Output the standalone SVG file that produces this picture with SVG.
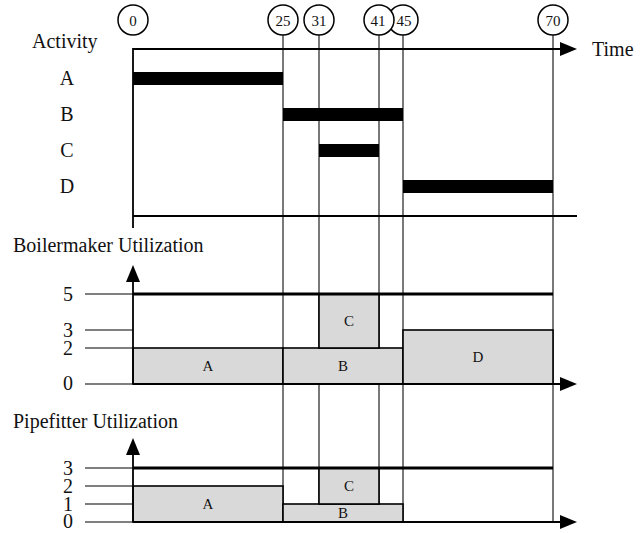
<svg xmlns="http://www.w3.org/2000/svg" width="642" height="533" viewBox="0 0 642 533">
  <style>
    text { font-family: "Liberation Serif", "Times New Roman", serif; fill: #111; }
    .lbl { font-size: 20px; }
    .tick { font-size: 20px; text-anchor: middle; }
    .ms { font-size: 15px; text-anchor: middle; }
    .bl { font-size: 15px; text-anchor: middle; }
    .axis { stroke: #000; stroke-width: 1.8; fill: none; }
    .tk { stroke: #000; stroke-width: 1.2; fill: none; }
    .guide { stroke: #4d4d4d; stroke-width: 1.5; fill: none; }
    .cap { stroke: #000; stroke-width: 3; fill: none; }
    .bar { fill: #000; }
    .use { fill: #d9d9d9; stroke: #000; stroke-width: 1.6; }
    .mile { fill: #fff; stroke: #000; stroke-width: 1.5; }
  </style>

  <!-- milestone guide lines (time scale: x = 133 + 6*t) -->
  <g id="connectors">
    <line class="guide" x1="283" y1="35" x2="283" y2="522"/>
    <line class="guide" x1="319" y1="35" x2="319" y2="522"/>
    <line class="guide" x1="379" y1="35" x2="379" y2="522"/>
    <line class="guide" x1="403" y1="35" x2="403" y2="522"/>
    <line class="guide" x1="553" y1="35" x2="553" y2="522"/>
  </g>

  <!-- milestone markers -->
  <g id="m0"><circle class="mile" cx="133" cy="20" r="15"/><text class="ms" x="133" y="25.5">0</text></g>
  <g id="m25"><circle class="mile" cx="283" cy="20" r="15"/><text class="ms" x="283" y="25.5">25</text></g>
  <g id="m31"><circle class="mile" cx="319" cy="20" r="15"/><text class="ms" x="319" y="25.5">31</text></g>
  <g id="m45"><circle class="mile" cx="403" cy="20" r="15"/><text class="ms" x="404" y="25.5">45</text></g>
  <g id="m41"><circle class="mile" cx="379" cy="20" r="15"/><text class="ms" x="378" y="25.5">41</text></g>
  <g id="m70"><circle class="mile" cx="553" cy="20" r="15"/><text class="ms" x="553" y="25.5">70</text></g>

  <!-- activity schedule (Gantt) -->
  <g id="schedule">
    <text class="lbl" x="32" y="48">Activity</text>
    <text class="lbl" x="592" y="56">Time</text>
    <line class="axis" x1="133" y1="49" x2="562" y2="49"/>
    <polygon points="577,49 560,42 560,56" fill="#000"/>
    <line class="axis" x1="133" y1="48" x2="133" y2="228"/>
    <line class="axis" x1="133" y1="216" x2="577" y2="216"/>
    <text class="lbl" x="67" y="85" text-anchor="middle">A</text>
    <text class="lbl" x="67" y="121" text-anchor="middle">B</text>
    <text class="lbl" x="67" y="157" text-anchor="middle">C</text>
    <text class="lbl" x="67" y="193" text-anchor="middle">D</text>
    <rect id="barA" class="bar" x="133" y="72" width="150" height="13"/>
    <rect id="barB" class="bar" x="283" y="108" width="120" height="13"/>
    <rect id="barC" class="bar" x="319" y="144" width="60" height="13"/>
    <rect id="barD" class="bar" x="403" y="180" width="150" height="13"/>
  </g>

  <!-- boilermaker resource profile (y = 384 - 18*units) -->
  <g id="boilermaker">
    <text class="lbl" x="13" y="252">Boilermaker Utilization</text>
    <line class="tk" x1="85" y1="294" x2="133" y2="294"/>
    <line class="tk" x1="85" y1="330" x2="133" y2="330"/>
    <line class="tk" x1="85" y1="348" x2="133" y2="348"/>
    <line class="tk" x1="85" y1="384" x2="133" y2="384"/>
    <text class="tick" x="68" y="301">5</text>
    <text class="tick" x="68" y="337">3</text>
    <text class="tick" x="68" y="355">2</text>
    <text class="tick" x="68" y="390">0</text>
    <rect id="bmA" class="use" x="133" y="348" width="150" height="36"/>
    <rect id="bmB" class="use" x="283" y="348" width="120" height="36"/>
    <rect id="bmC" class="use" x="319" y="294" width="60" height="54"/>
    <rect id="bmD" class="use" x="403" y="330" width="150" height="54"/>
    <text class="bl" x="208" y="371">A</text>
    <text class="bl" x="343" y="371">B</text>
    <text class="bl" x="349" y="326">C</text>
    <text class="bl" x="478" y="362">D</text>
    <line class="cap" x1="133" y1="294" x2="553" y2="294"/>
    <line class="axis" x1="133" y1="280" x2="133" y2="384"/>
    <polygon points="133,265 126,282 140,282" fill="#000"/>
    <line class="axis" x1="133" y1="384" x2="562" y2="384"/>
    <polygon points="577,384 560,377 560,391" fill="#000"/>
  </g>

  <!-- pipefitter resource profile (y = 522 - 18*units) -->
  <g id="pipefitter">
    <text class="lbl" x="13" y="428">Pipefitter Utilization</text>
    <line class="tk" x1="85" y1="468" x2="133" y2="468"/>
    <line class="tk" x1="85" y1="486" x2="133" y2="486"/>
    <line class="tk" x1="85" y1="504" x2="133" y2="504"/>
    <line class="tk" x1="85" y1="522" x2="133" y2="522"/>
    <text class="tick" x="68" y="475">3</text>
    <text class="tick" x="68" y="493">2</text>
    <text class="tick" x="68" y="511">1</text>
    <text class="tick" x="68" y="528">0</text>
    <rect id="pfA" class="use" x="133" y="486" width="150" height="36"/>
    <rect id="pfB" class="use" x="283" y="504" width="120" height="18"/>
    <rect id="pfC" class="use" x="319" y="468" width="60" height="36"/>
    <text class="bl" x="208" y="509">A</text>
    <text class="bl" x="343" y="518">B</text>
    <text class="bl" x="349" y="491">C</text>
    <line class="cap" x1="133" y1="468" x2="553" y2="468"/>
    <line class="axis" x1="133" y1="453" x2="133" y2="522"/>
    <polygon points="133,438 126,455 140,455" fill="#000"/>
    <line class="axis" x1="133" y1="522" x2="562" y2="522"/>
    <polygon points="577,522 560,515 560,529" fill="#000"/>
  </g>
</svg>
